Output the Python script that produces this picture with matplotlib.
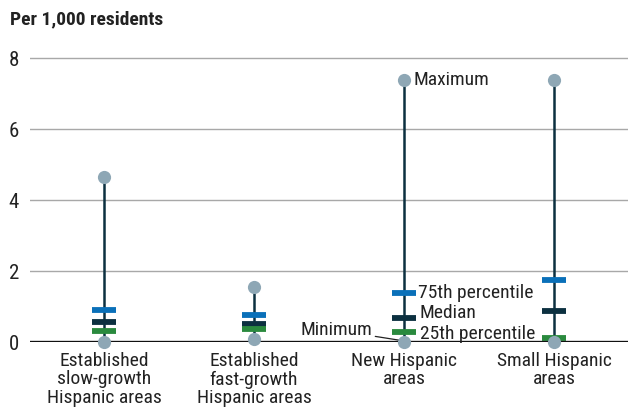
import matplotlib
matplotlib.use("Agg")
import matplotlib.pyplot as plt
from matplotlib import font_manager

categories = ["Established\nslow-growth\nHispanic areas",
              "Established\nfast-growth\nHispanic areas",
              "New Hispanic\nareas",
              "Small Hispanic\nareas"]
minimum = [0.0, 0.08, 0.0, 0.0]
p25 = [0.30, 0.36, 0.27, 0.12]
median = [0.57, 0.51, 0.69, 0.86]
p75 = [0.91, 0.77, 1.37, 1.76]
maximum = [4.66, 1.55, 7.38, 7.38]
yticks = [0, 2, 4, 6, 8]

names = [f.name for f in font_manager.fontManager.ttflist]
fam = [n for n in ["Liberation Sans Narrow", "Roboto Condensed", "Liberation Sans"] if n in names]
plt.rcParams['font.family'] = fam + ['DejaVu Sans']

fig = plt.figure(figsize=(6.28, 4.15), dpi=100)
ax = fig.add_axes([30/628, (415-342)/415, 598/628, (342-47.4)/415])

x = list(range(len(categories)))
ax.set_xlim(-0.493, 3.493)
ax.set_ylim(0, 8.3)

for t in yticks[1:]:
    ax.axhline(t, color="#a8a8a8", lw=1.0, zorder=0)

c_stem = "#0c3040"
c_dot = "#8ea7b5"
c_75 = "#0a70b9"
c_med = "#0c3040"
c_25 = "#2a8a3e"
hw = 0.08
for i in x:
    ax.plot([i, i], [minimum[i], maximum[i]], color=c_stem, lw=1.8, zorder=2, clip_on=False)
    ax.hlines([p75[i]], i - hw, i + hw, color=c_75, lw=4.2, zorder=3)
    ax.hlines([median[i]], i - hw, i + hw, color=c_med, lw=4.2, zorder=3)
    ax.hlines([p25[i]], i - hw, i + hw, color=c_25, lw=4.2, zorder=3)
ax.plot(x, maximum, 'o', color=c_dot, ms=9.5, mec='none', zorder=4, clip_on=False)
ax.plot(x, minimum, 'o', color=c_dot, ms=9.5, mec='none', zorder=4, clip_on=False)

ax.axhline(0, color="#111111", lw=2.4, zorder=3)

fs = 14
ax.text(2 + 0.06, maximum[2], "Maximum", fontsize=fs, va='center', ha='left', color="#222222")
ax.text(2 + 0.095, p75[2], "75th percentile", fontsize=fs, va='center', ha='left', color="#222222")
ax.text(2 + 0.105, median[2] + 0.12, "Median", fontsize=fs, va='center', ha='left', color="#222222")
ax.text(2 + 0.105, p25[2] - 0.04, "25th percentile", fontsize=fs, va='center', ha='left', color="#222222")
ax.annotate("Minimum", xy=(2 - 0.03, minimum[2] + 0.05), xytext=(2 - 0.21, 0.33),
            fontsize=fs, va='center', ha='right', color="#222222",
            arrowprops=dict(arrowstyle='-', color="#222222", lw=0.9, shrinkA=0, shrinkB=0))

ax.set_yticks(yticks)
ax.set_yticklabels([str(t) for t in yticks], fontsize=fs + 1)
ax.set_xticks(x)
ax.set_xticklabels(categories, fontsize=fs, linespacing=1.05)
ax.tick_params(axis='both', length=0, colors="#222222")
ax.tick_params(axis='y', pad=8)
ax.tick_params(axis='x', pad=7)
for s in ax.spines.values():
    s.set_visible(False)

fig.text(10/628, 1 - 19/415, "Per 1,000 residents", fontsize=14, fontweight='bold',
         va='center', ha='left', color="#222222")

fig.savefig("out.png", dpi=100)
